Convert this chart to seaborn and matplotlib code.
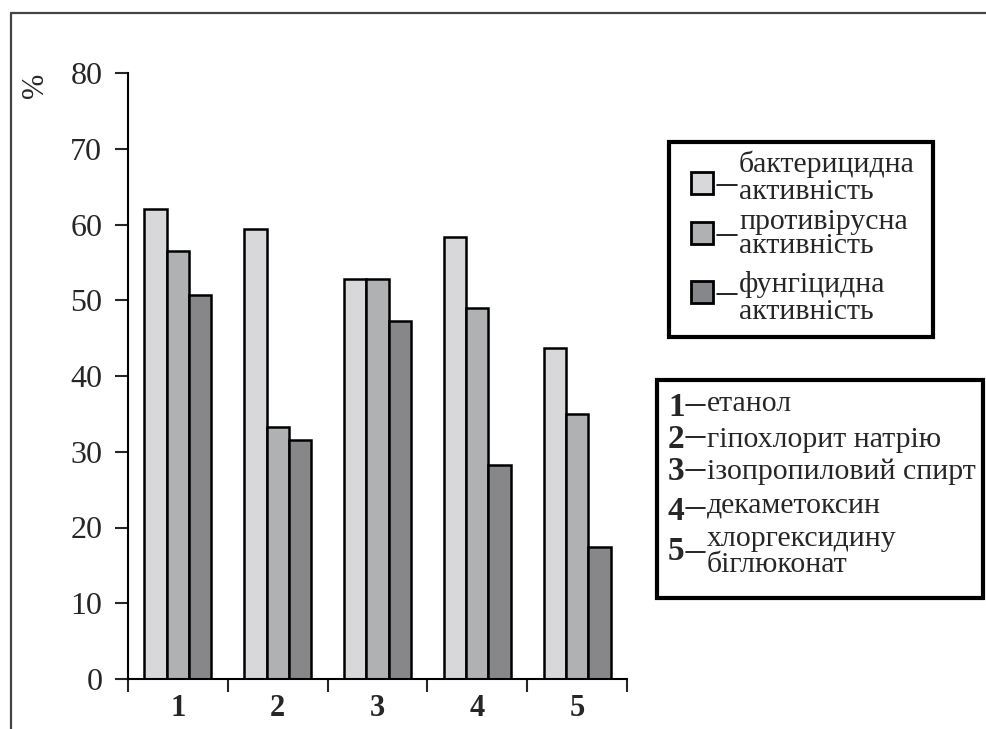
import pandas as pd
import numpy as np
import seaborn as sns
import matplotlib.pyplot as plt
from matplotlib.patches import Rectangle
from matplotlib.lines import Line2D

# Data
groups = ['1', '2', '3', '4', '5']
activities = ['бактерицидна активність', 'противірусна активність', 'фунгіцидна активність']
bactericidal = [62.1, 59.4, 52.8, 58.4, 43.7]
antiviral = [56.5, 33.3, 52.8, 49.0, 35.0]
fungicidal = [50.7, 31.5, 47.2, 28.3, 17.4]
colors = ['#d8d8da', '#b0b1b3', '#86878b']

legend_lines = [['бактерицидна', 'активність'],
                ['противірусна', 'активність'],
                ['фунгіцидна', 'активність']]
substances = ['етанол', 'гіпохлорит натрію', 'ізопропиловий спирт',
              'декаметоксин', 'хлоргексидину\nбіглюконат']

df = pd.DataFrame({
    'group': groups * 3,
    'activity': np.repeat(activities, len(groups)),
    'value': bactericidal + antiviral + fungicidal,
})

sns.set_style('white')
plt.rcParams['font.family'] = ['Liberation Serif', 'DejaVu Serif']

W, H = 987, 729
fig = plt.figure(figsize=(W / 100, H / 100), dpi=100)


def px(x, y):
    # pixel coords (from top-left) -> figure fraction
    return x / W, 1 - y / H


ax = fig.add_axes([128 / W, 1 - 679 / H, (627 - 128) / W, (679 - 73) / H])
sns.barplot(data=df, x='group', y='value', hue='activity', palette=colors,
            edgecolor='black', linewidth=1.8, width=0.67, ax=ax, legend=False)

ax.set_xlim(-0.5, 4.5)
ax.set_ylim(0, 80)
ax.set_yticks(range(0, 81, 10))
ax.set_xlabel('')
ax.set_ylabel('')
for s in ['top', 'right']:
    ax.spines[s].set_visible(False)
for s in ['left', 'bottom']:
    ax.spines[s].set_linewidth(1.5)
    ax.spines[s].set_color('black')

ax.tick_params(axis='y', direction='out', length=9.5, width=1.5, pad=9,
               labelsize=23, left=True)
ax.tick_params(axis='x', which='major', length=0, pad=11)
ax.set_xticks(np.arange(-0.5, 5, 1), minor=True)
ax.tick_params(axis='x', which='minor', direction='out', length=9, width=1.5,
               bottom=True)
for lab in ax.get_xticklabels():
    lab.set_fontsize(22)
    lab.set_fontweight('bold')

fig.text(*px(35, 85), '%', rotation=90, fontsize=22, ha='center', va='center')

# border of the screenshot
fig.add_artist(Line2D([11 / W, 1], [1 - 13 / H, 1 - 13 / H], color='#444444', lw=1.6))
fig.add_artist(Line2D([11 / W, 11 / W], [0, 1 - 13 / H], color='#444444', lw=1.6))

# legend 1 (activities)
x0, y0 = px(669, 337)
x1, y1 = px(933, 142)
fig.add_artist(Rectangle((x0, y0), x1 - x0, y1 - y0, transform=fig.transFigure,
                         fill=False, edgecolor='black', lw=3))
sq_y = [183, 233, 292]
text_y = [(164, 192), (222, 246), (285, 312)]
for c, yc, (ya, yb), lines in zip(colors, sq_y, text_y, legend_lines):
    sx, sy = px(691, yc + 11)
    fig.add_artist(Rectangle((sx, sy), 22 / W, 22 / H, transform=fig.transFigure,
                             facecolor=c, edgecolor='black', lw=2))
    fig.add_artist(Line2D([717 / W, 737 / W], [1 - (yc + 2) / H] * 2, color='black', lw=1.2))
    fig.text(*px(739, ya), lines[0], fontsize=21.5, va='center')
    fig.text(*px(739, yb), lines[1], fontsize=21.5, va='center')

# legend 2 (substances)
x0, y0 = px(657, 598)
x1, y1 = px(983, 380)
fig.add_artist(Rectangle((x0, y0), x1 - x0, y1 - y0, transform=fig.transFigure,
                         fill=False, edgecolor='black', lw=3))
num_y = [407, 440, 472, 511, 552]
name_y = [404, 440, 472, 505, 552]
dash_y = [405, 437, 470, 508, 552]
for i, (ny, ty, dy, name) in enumerate(zip(num_y, name_y, dash_y, substances)):
    fig.text(*px(668, ny), str(i + 1), fontsize=24, fontweight='bold', va='center')
    fig.add_artist(Line2D([686 / W, 705 / W], [1 - dy / H] * 2, color='black', lw=1.2))
    fig.text(*px(707, ty), name, fontsize=21.5, va='center', linespacing=1.05)

fig.savefig('out.png', dpi=100)
